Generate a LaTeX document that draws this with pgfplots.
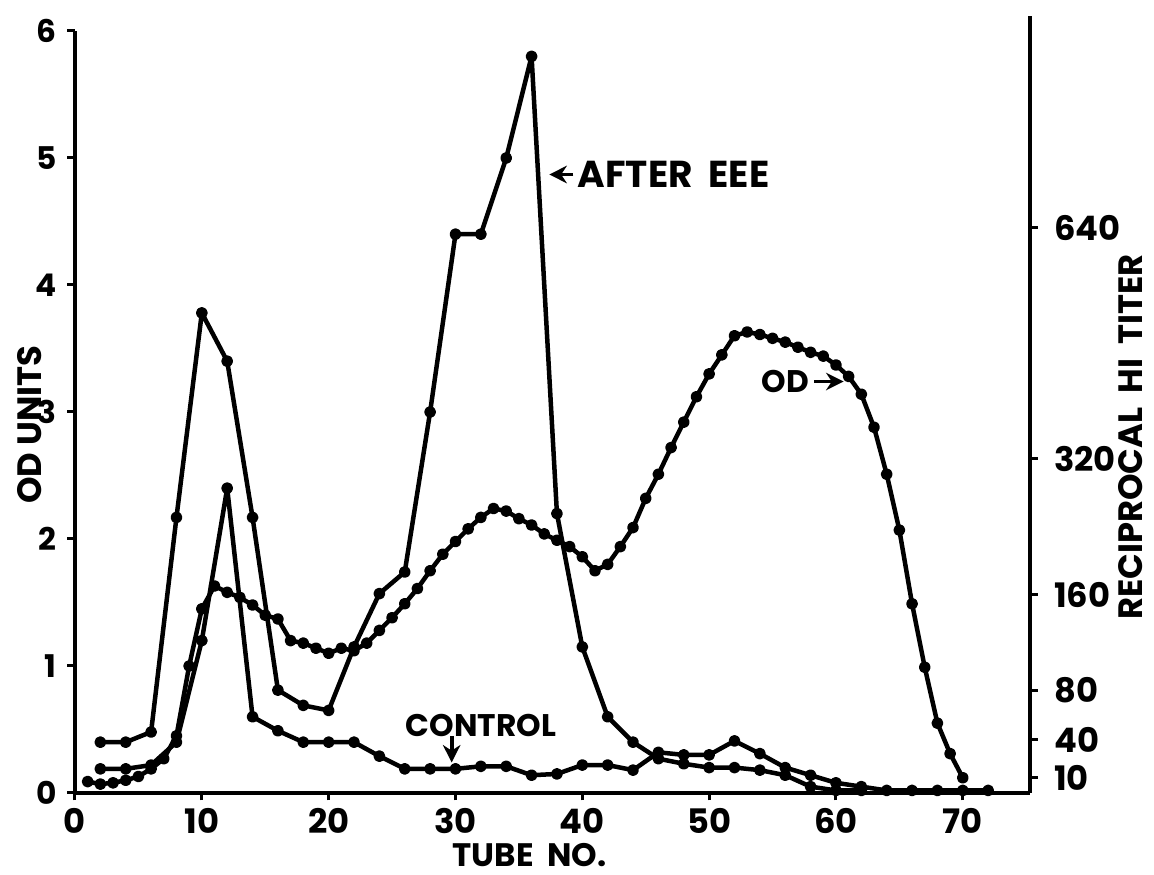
\documentclass[border=0pt]{standalone}
\usepackage{pgfplots}
\pgfplotsset{compat=1.18}
\usepackage{pgfplotstable}
\usepackage{fontspec}
\setmainfont{Poppins}
\usetikzlibrary{arrows.meta}

\pgfplotstableread{
x y
1 0.09
2 0.07
3 0.08
4 0.10
5 0.13
6 0.19
7 0.27
8 0.45
9 1.00
10 1.45
11 1.63
12 1.58
13 1.54
14 1.48
15 1.40
16 1.37
17 1.20
18 1.18
19 1.14
20 1.10
21 1.14
22 1.12
23 1.18
24 1.28
25 1.38
26 1.49
27 1.61
28 1.75
29 1.88
30 1.98
31 2.08
32 2.17
33 2.24
34 2.22
35 2.16
36 2.11
37 2.04
38 1.99
39 1.94
40 1.86
41 1.75
42 1.80
43 1.94
44 2.09
45 2.32
46 2.51
47 2.72
48 2.92
49 3.12
50 3.30
51 3.45
52 3.60
53 3.63
54 3.61
55 3.58
56 3.55
57 3.51
58 3.47
59 3.44
60 3.37
61 3.28
62 3.14
63 2.88
64 2.51
65 2.07
66 1.49
67 0.99
68 0.55
69 0.31
70 0.12
}\odtable

\pgfplotstableread{
x y
2 0.40
4 0.40
6 0.48
8 2.17
10 3.78
12 3.40
14 2.17
16 0.81
18 0.69
20 0.65
22 1.15
24 1.57
26 1.74
28 3.00
30 4.40
32 4.40
34 5.00
36 5.80
38 2.20
40 1.15
42 0.60
44 0.40
46 0.27
48 0.23
50 0.20
52 0.20
54 0.18
56 0.14
58 0.05
60 0.02
62 0.02
}\eeetable

\pgfplotstableread{
x y
2 0.19
4 0.19
6 0.22
8 0.40
10 1.20
12 2.40
14 0.60
16 0.49
18 0.40
20 0.40
22 0.40
24 0.29
26 0.19
28 0.19
30 0.19
32 0.21
34 0.21
36 0.14
38 0.15
40 0.22
42 0.22
44 0.18
46 0.32
48 0.30
50 0.30
52 0.41
54 0.31
56 0.20
58 0.14
60 0.08
62 0.05
64 0.02
66 0.02
68 0.02
70 0.02
72 0.02
}\controltable

\begin{document}
\begin{tikzpicture}
\pgfplotsset{
  base/.style={
    scale only axis, width=382pt, height=304.8pt,
    xmin=0, xmax=75.3, ymin=0, ymax=6,
    axis line style={line width=1.3pt},
    tick align=outside, major tick length=3pt,
    tick style={line width=1.2pt, black},
    tick label style={font=\fontsize{13.5}{15}\selectfont\bfseries, inner sep=1.5pt},
    label style={font=\fontsize{13.5}{15}\selectfont\bfseries, inner sep=0.5pt},
    /pgf/number format/assume math mode=true,
    clip=false,
  },
  curve/.style={black, line width=1.8pt, line join=round, mark=*, mark size=1.45pt, mark options={solid}},
}
\begin{axis}[base,
  axis x line*=bottom, axis y line*=left,
  xtick={0,10,...,70}, ytick={0,1,...,6},
  xticklabel style={yshift=-1.5pt},
  yticklabel style={font=\fontsize{12.5}{14}\selectfont\bfseries, xshift=-2.7pt},
  xlabel={TUBE\ \ NO.},
  ylabel={OD UNITS},
  xlabel style={at={(axis description cs:0.476,-0.0813)}, anchor=center, font=\fontsize{13}{14}\selectfont\bfseries, inner sep=0pt},
  ylabel style={at={(axis description cs:-0.0471,0.483)}, anchor=center},
]
\addplot[curve] table {\odtable};
\addplot[curve] table {\eeetable};
\addplot[curve] table {\controltable};
\node[anchor=west, inner sep=0pt, font=\fontsize{15}{17}\selectfont\bfseries] at (axis cs:39.6,4.87) {AFTER\ \ EEE};
\draw[line width=1.5pt, -{Stealth[length=7pt,width=7pt]}] (axis cs:39.3,4.87) -- (axis cs:37.4,4.87);
\node[anchor=east, inner sep=0pt, font=\fontsize{12.5}{14}\selectfont\bfseries] at (axis cs:57.9,3.24) {OD};
\draw[line width=1.5pt, -{Stealth[length=7pt,width=7pt]}] (axis cs:58.3,3.24) -- (axis cs:60.6,3.24);
\node[anchor=center, inner sep=0pt, font=\fontsize{12.5}{14}\selectfont\bfseries] at (axis cs:32.0,0.53) {CONTROL};
\draw[line width=1.5pt, -{Stealth[length=7pt,width=7pt]}] (axis cs:29.7,0.45) -- (axis cs:29.7,0.24);
\end{axis}
\begin{axis}[base,
  axis x line=none, axis y line*=right,
  ytick={0.12,0.42,0.81,1.56,2.63,4.45},
  yticklabels={10,40,80,160,320,640},
  yticklabel style={xshift=5pt},
  ylabel={RECIPROCAL\ \ HI\ \ TITER},
  ylabel style={at={(axis description cs:1.1050,0.467)}, anchor=center},
]
\draw[line width=1.3pt] (axis cs:75.3,6) -- (axis cs:75.3,6.12);
\end{axis}
\pgfresetboundingbox
\path[use as bounding box] (-30pt,-32.8pt) rectangle (431.6pt,317.2pt);
\end{tikzpicture}
\end{document}
